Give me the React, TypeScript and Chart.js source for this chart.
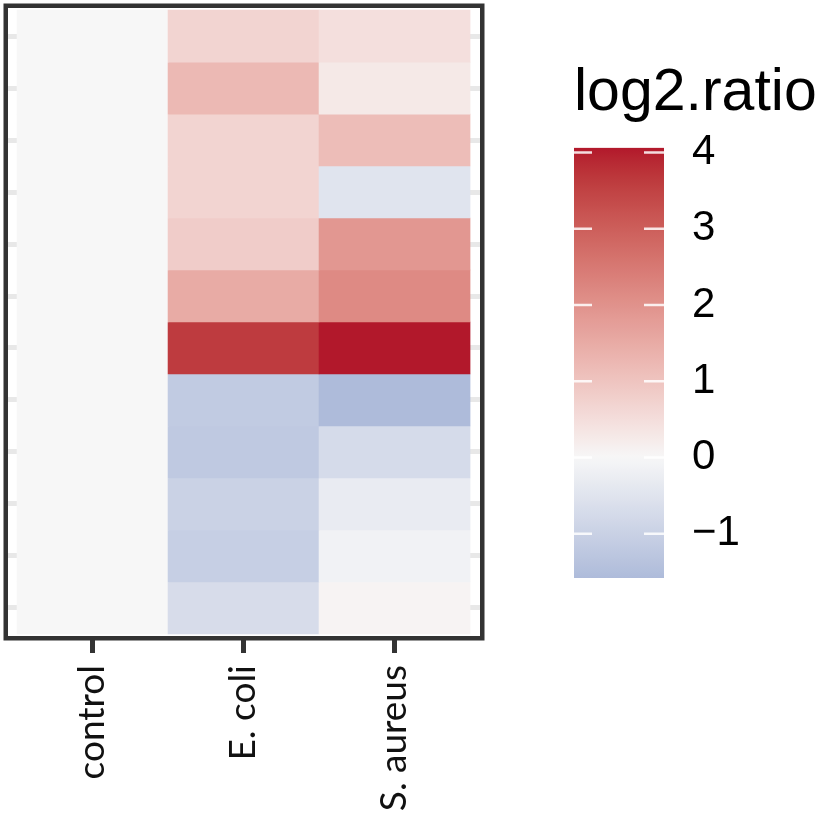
import React, { useEffect, useRef } from "react";
import { Chart, registerables } from "chart.js";
Chart.register(...registerables);

// ---------- data ----------
const categories = ["control", "E. coli", "S. aureus"];
const rowNames = ["1", "2", "3", "4", "5", "6", "7", "8", "9", "10", "11", "12"];
const controlValues = [0, 0, 0, 0, 0, 0, 0, 0, 0, 0, 0, 0];
const ecoliValues = [0.68, 1.22, 0.68, 0.68, 0.84, 1.51, 3.61, -1.16, -1.21, -0.97, -1.06, -0.7];
const saureusValues = [0.47, 0.28, 1.15, -0.5, 1.9, 2.15, 4.06, -1.58, -0.73, -0.3, -0.13, 0.08];
const legendTicks = [-1, 0, 1, 2, 3, 4];
const legendTitle = "log2.ratio";

const LOW = "#2166AC";
const MID = "#F7F7F7";
const HIGH = "#B2182B";

const columns = [controlValues, ecoliValues, saureusValues];
const allValues = columns.flat();
const dataMin = Math.min(...allValues);
const dataMax = Math.max(...allValues);

// ---------- colour (Lab interpolation, like ggplot2 gradient2) ----------
function hexToRgb(h: string) {
  const n = parseInt(h.slice(1), 16);
  return [(n >> 16) & 255, (n >> 8) & 255, n & 255];
}
const toLin = (c: number) => {
  c /= 255;
  return c <= 0.04045 ? c / 12.92 : Math.pow((c + 0.055) / 1.055, 2.4);
};
const fromLin = (c: number) => {
  const v = c <= 0.0031308 ? 12.92 * c : 1.055 * Math.pow(c, 1 / 2.4) - 0.055;
  return Math.round(Math.max(0, Math.min(1, v)) * 255);
};
const Xn = 0.95047, Yn = 1, Zn = 1.08883;
function rgbToLab(rgb: number[]) {
  const [r, g, b] = rgb.map(toLin);
  const X = 0.4124 * r + 0.3576 * g + 0.1805 * b;
  const Y = 0.2126 * r + 0.7152 * g + 0.0722 * b;
  const Z = 0.0193 * r + 0.1192 * g + 0.9505 * b;
  const f = (t: number) => (t > 0.008856 ? Math.cbrt(t) : 7.787 * t + 16 / 116);
  const fx = f(X / Xn), fy = f(Y / Yn), fz = f(Z / Zn);
  return [116 * fy - 16, 500 * (fx - fy), 200 * (fy - fz)];
}
function labToRgb(lab: number[]) {
  const [L, a, b] = lab;
  const fy = (L + 16) / 116, fx = fy + a / 500, fz = fy - b / 200;
  const finv = (t: number) => (t * t * t > 0.008856 ? t * t * t : (t - 16 / 116) / 7.787);
  const X = Xn * finv(fx), Y = Yn * finv(fy), Z = Zn * finv(fz);
  const r = 3.2406 * X - 1.5372 * Y - 0.4986 * Z;
  const g = -0.9689 * X + 1.8758 * Y + 0.0415 * Z;
  const bl = 0.0557 * X - 0.204 * Y + 1.057 * Z;
  return [fromLin(r), fromLin(g), fromLin(bl)];
}
const labLow = rgbToLab(hexToRgb(LOW));
const labMid = rgbToLab(hexToRgb(MID));
const labHigh = rgbToLab(hexToRgb(HIGH));
function colorFor(v: number) {
  const m = Math.max(Math.abs(dataMin), Math.abs(dataMax));
  const t = 0.5 + v / (2 * m);
  let a: number[], b: number[], s: number;
  if (t < 0.5) { a = labLow; b = labMid; s = t / 0.5; }
  else { a = labMid; b = labHigh; s = (t - 0.5) / 0.5; }
  const lab = a.map((x, i) => x + (b[i] - x) * s);
  const [r, g, bl] = labToRgb(lab);
  return `rgb(${r},${g},${bl})`;
}

const panelBorder = {
  id: "panelBorder",
  afterDraw(chart: any) {
    const { ctx, chartArea: a } = chart;
    ctx.save();
    ctx.strokeStyle = "#333333";
    ctx.lineWidth = 4.5;
    ctx.strokeRect(a.left - 2.25, a.top - 2.25, a.right - a.left + 4.5, a.bottom - a.top + 4.5);
    ctx.restore();
  },
};

const barTicks = {
  id: "barTicks",
  afterDatasetsDraw(chart: any) {
    const { ctx, chartArea: a } = chart;
    const y = chart.scales.y;
    ctx.save();
    ctx.strokeStyle = "rgba(255,255,255,0.85)";
    ctx.lineWidth = 2.5;
    legendTicks.forEach((v) => {
      const py = y.getPixelForValue(v);
      ctx.beginPath();
      ctx.moveTo(a.left, py);
      ctx.lineTo(a.left + 18, py);
      ctx.moveTo(a.right - 20, py);
      ctx.lineTo(a.right, py);
      ctx.stroke();
    });
    ctx.restore();
  },
};

export default function App() {
  const mainRef = useRef<HTMLCanvasElement>(null);
  const legRef = useRef<HTMLCanvasElement>(null);

  useEffect(() => {
    const datasets = rowNames.map((name, r) => ({
      label: name,
      data: categories.map((_, c) => ({ x: c, y: 1 })),
      backgroundColor: categories.map((_, c) => colorFor(columns[c][r])),
      borderWidth: 0,
      barPercentage: 1,
      categoryPercentage: 1,
    }));
    const main = new Chart(mainRef.current!, {
      type: "bar",
      data: { datasets },
      options: {
        responsive: false,
        animation: false,
        layout: { padding: { left: 8, right: 80, top: 8, bottom: 0 } },
        plugins: { legend: { display: false }, tooltip: { enabled: false } },
        scales: {
          x: {
            type: "linear",
            offset: false,
            min: -0.56,
            max: 2.566,
            stacked: true,
            afterBuildTicks: (a: any) => { a.ticks = categories.map((_, i) => ({ value: i })); },
            afterFit: (a: any) => { a.height = 177; },
            grid: { offset: false, drawOnChartArea: false, drawTicks: true, tickLength: 17, tickWidth: 5, tickColor: "#333333" },
            border: { display: false },
            ticks: {
              autoSkip: false,
              minRotation: 90,
              maxRotation: 90,
              padding: 12,
              color: "#111111",
              font: { family: "Lato", size: 37 },
              callback: (v: any) => categories[v as number],
            },
          },
          y: {
            type: "linear",
            reverse: true,
            min: -0.04,
            max: 12.04,
            stacked: true,
            afterBuildTicks: (a: any) => { a.ticks = rowNames.map((_, i) => ({ value: i + 0.5 })); },
            afterFit: (a: any) => { a.width = 0; },
            ticks: { display: false },
            grid: { color: "#e8e8e8", lineWidth: 5, drawTicks: false },
            border: { display: false },
          },
        },
      } as any,
      plugins: [panelBorder],
    });

    const legend = new Chart(legRef.current!, {
      type: "bar",
      data: {
        labels: [legendTitle],
        datasets: [
          {
            data: [[dataMin, dataMax]],
            borderWidth: 0,
            barPercentage: 1,
            categoryPercentage: 1,
            backgroundColor: (c: any) => {
              const chart = c.chart;
              if (!chart.chartArea) return MID;
              const y = chart.scales.y;
              const top = y.getPixelForValue(dataMax);
              const bottom = y.getPixelForValue(dataMin);
              const g = chart.ctx.createLinearGradient(0, bottom, 0, top);
              const n = 60;
              for (let i = 0; i <= n; i++) {
                const v = dataMin + ((dataMax - dataMin) * i) / n;
                g.addColorStop(i / n, colorFor(v));
              }
              return g;
            },
          },
        ],
      },
      options: {
        responsive: false,
        animation: false,
        layout: { padding: { left: 14, right: 0, top: 0, bottom: 235 } },
        plugins: {
          legend: { display: false },
          tooltip: { enabled: false },
          title: {
            display: true,
            text: legendTitle,
            align: "start",
            color: "#000000",
            font: { family: "'Liberation Sans', Arial, sans-serif", size: 59, weight: "normal", lineHeight: 1.2 },
            padding: { top: 58, bottom: 19 },
          },
        },
        scales: {
          x: { display: false },
          y: {
            position: "right",
            min: dataMin,
            max: dataMax,
            afterBuildTicks: (a: any) => { a.ticks = legendTicks.map((v) => ({ value: v })); },
            afterFit: (a: any) => { a.width = 163; },
            grid: { display: false, drawTicks: false },
            border: { display: false },
            ticks: {
              padding: 28,
              color: "#000000",
              font: { family: "'Liberation Sans', Arial, sans-serif", size: 42 },
              callback: (v: any) => String(v).replace("-", "\u2212"),
            },
          },
        },
      } as any,
      plugins: [barTicks],
    });

    return () => {
      main.destroy();
      legend.destroy();
    };
  }, []);

  return (
    <div style={{ position: "absolute", left: 0, top: 0, width: 827, height: 813, background: "#ffffff", overflow: "hidden" }}>
      <canvas ref={mainRef} width={560} height={813} style={{ position: "absolute", left: 0, top: 0, width: 560, height: 813 }} />
      <canvas ref={legRef} width={267} height={813} style={{ position: "absolute", left: 560, top: 0, width: 267, height: 813 }} />
    </div>
  );
}
